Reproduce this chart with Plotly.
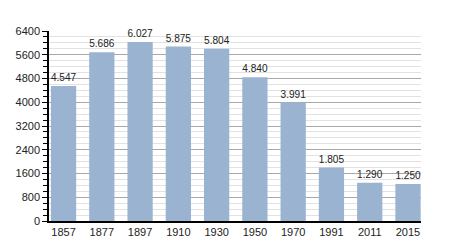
import plotly.graph_objects as go

years = ["1857", "1877", "1897", "1910", "1930", "1950", "1970", "1991", "2011", "2015"]
population = [4547, 5686, 6027, 5875, 5804, 4840, 3991, 1805, 1290, 1250]
labels = ["4.547", "5.686", "6.027", "5.875", "5.804", "4.840", "3.991", "1.805", "1.290", "1.250"]
y_ticks = [0, 800, 1600, 2400, 3200, 4000, 4800, 5600, 6400]

fig = go.Figure()
fig.add_trace(go.Bar(
    x=years, y=population, text=labels, textposition="outside",
    textfont=dict(size=11, color="#222222", family="Liberation Sans, Arial"),
    marker=dict(color="#99b3d0", line=dict(width=0)),
    width=0.66, cliponaxis=False,
))
fig.update_layout(
    width=450, height=250,
    margin=dict(l=49, r=29, t=31, b=29),
    plot_bgcolor="white", paper_bgcolor="white",
    showlegend=False,
    font=dict(family="Liberation Sans, Arial", size=11, color="#222222"),
)
fig.update_xaxes(
    type="category", range=[-0.38, 9.34],
    showline=True, linecolor="black", linewidth=1.5,
    ticks="", showgrid=False, tickfont=dict(size=11),
)
fig.update_yaxes(
    range=[0, 6400], tickvals=y_ticks, ticktext=[str(v) for v in y_ticks],
    showline=True, linecolor="black", linewidth=1.5,
    ticks="outside", ticklen=5, tickcolor="black",
    showgrid=True, gridcolor="#a8a8a8", gridwidth=1,
    zeroline=False, tickfont=dict(size=11),
    minor=dict(dtick=200, tick0=0, ticks="outside", ticklen=4, tickcolor="black",
               showgrid=True, gridcolor="#e2e2e2", gridwidth=1),
)
fig.write_html("out.html")
